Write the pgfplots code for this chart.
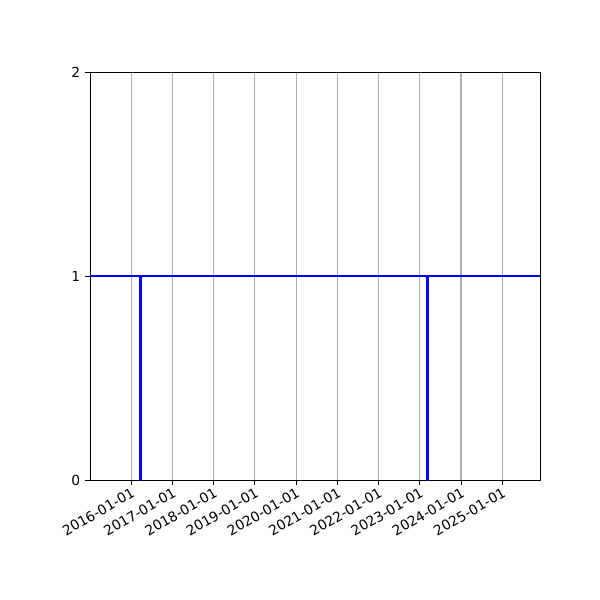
\documentclass[border=0pt]{standalone}
\usepackage{fontspec}
\setmainfont{DejaVu Sans}
\usepackage{pgfplots}
\pgfplotsset{compat=1.18}
\begin{document}
\begin{tikzpicture}[x=1in,y=1in]
\path[use as bounding box] (0,0) rectangle (6,6);
% days counted from 2016-01-01
\begin{axis}[
  at={(0.9in,1.2in)}, anchor=south west,
  scale only axis, width=4.5in, height=4.08in,
  xmin=-365, xmax=3622, ymin=0, ymax=2,
  xtick={0,366,731,1096,1461,1827,2192,2557,2922,3288},
  xticklabels={2016-01-01,2017-01-01,2018-01-01,2019-01-01,2020-01-01,2021-01-01,2022-01-01,2023-01-01,2024-01-01,2025-01-01},
  ytick={0,1,2},
  x tick label style={rotate=30, anchor=north east, inner sep=1pt},
  tick label style={font=\fontsize{10pt}{12pt}\selectfont},
  /pgf/number format/assume math mode=true,
  tick align=outside, tick pos=left,
  major tick length=3.5pt,
  every tick/.style={black, line width=0.7pt},
  axis line style={line width=0.7pt},
  xmajorgrids,
  grid style={color=black!31, line width=0.8pt},
]
\addplot[blue, line width=1.8pt, line join=round] coordinates {
  (-365,1) (83,1) (83,0) (84,0) (84,1)
  (2627,1) (2627,0) (2628,0) (2628,1) (3622,1)
};
\end{axis}
\end{tikzpicture}
\end{document}
